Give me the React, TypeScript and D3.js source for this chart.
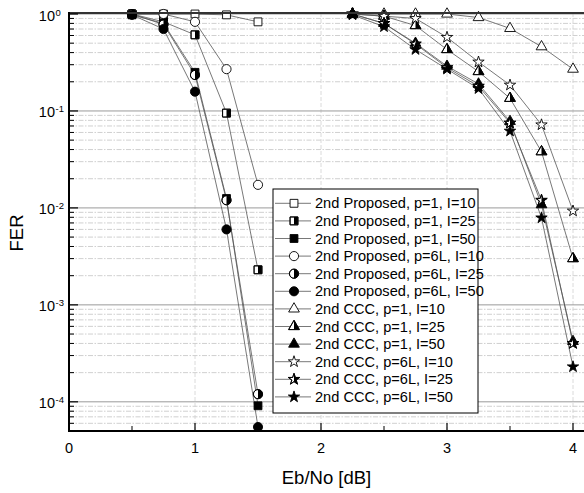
import React from 'react';
import * as d3 from 'd3';

const W = 584;
const H = 493;

// ---- data ----
const xProposed = [0.5, 0.75, 1.0, 1.25, 1.5];
const xCCC = [2.25, 2.5, 2.75, 3.0, 3.25, 3.5, 3.75, 4.0];

const propP1I10 = [1.0, 1.0, 1.0, 0.98, 0.83];
const propP1I25 = [1.0, 0.83, 0.61, 0.095, 0.0023];
const propP1I50 = [0.98, 0.8, 0.25, 0.0125, 9.1e-5];
const propP6I10 = [1.0, 1.0, 0.83, 0.27, 0.0173];
const propP6I25 = [1.0, 0.78, 0.235, 0.012, 1.2e-4];
const propP6I50 = [0.98, 0.7, 0.158, 0.006, 5.5e-5];

const cccP1I10 = [1.0, 1.0, 1.0, 1.0, 0.92, 0.71, 0.46, 0.27];
const cccP1I25 = [1.0, 0.95, 0.76, 0.43, 0.255, 0.135, 0.038, 0.003];
const cccP1I50 = [1.0, 0.8, 0.5, 0.29, 0.19, 0.078, 0.0108, 4.2e-4];
const cccP6I10 = [1.0, 0.95, 0.9, 0.575, 0.32, 0.185, 0.072, 0.0093];
const cccP6I25 = [1.0, 0.8, 0.49, 0.28, 0.18, 0.075, 0.012, 4.0e-4];
const cccP6I50 = [0.98, 0.74, 0.43, 0.27, 0.17, 0.062, 0.0079, 2.3e-4];

const xTicks = [0, 1, 2, 3, 4];
const xMinorTicks = [0.5, 1.5, 2.5, 3.5];
const yDecades = [-4, -3, -2, -1, 0];

type Shape = 'square' | 'circle' | 'triangle' | 'star';
type Fill = 'open' | 'half' | 'full';
interface Series { label: string; x: number[]; y: number[]; shape: Shape; fill: Fill; }

const series: Series[] = [
  { label: '2nd Proposed, p=1, I=10', x: xProposed, y: propP1I10, shape: 'square', fill: 'open' },
  { label: '2nd Proposed, p=1, I=25', x: xProposed, y: propP1I25, shape: 'square', fill: 'half' },
  { label: '2nd Proposed, p=1, I=50', x: xProposed, y: propP1I50, shape: 'square', fill: 'full' },
  { label: '2nd Proposed, p=6L, I=10', x: xProposed, y: propP6I10, shape: 'circle', fill: 'open' },
  { label: '2nd Proposed, p=6L, I=25', x: xProposed, y: propP6I25, shape: 'circle', fill: 'half' },
  { label: '2nd Proposed, p=6L, I=50', x: xProposed, y: propP6I50, shape: 'circle', fill: 'full' },
  { label: '2nd CCC, p=1, I=10', x: xCCC, y: cccP1I10, shape: 'triangle', fill: 'open' },
  { label: '2nd CCC, p=1, I=25', x: xCCC, y: cccP1I25, shape: 'triangle', fill: 'half' },
  { label: '2nd CCC, p=1, I=50', x: xCCC, y: cccP1I50, shape: 'triangle', fill: 'full' },
  { label: '2nd CCC, p=6L, I=10', x: xCCC, y: cccP6I10, shape: 'star', fill: 'open' },
  { label: '2nd CCC, p=6L, I=25', x: xCCC, y: cccP6I25, shape: 'star', fill: 'half' },
  { label: '2nd CCC, p=6L, I=50', x: xCCC, y: cccP6I50, shape: 'star', fill: 'full' },
];

const FONT = '"Liberation Sans", Arial, Helvetica, sans-serif';

const symbolType: Record<Shape, d3.SymbolType> = {
  square: d3.symbolSquare,
  circle: d3.symbolCircle,
  triangle: d3.symbolTriangle,
  star: d3.symbolStar,
};
const symbolSize: Record<Shape, number> = { square: 62, circle: 66, triangle: 50, star: 40 };

function Marker({ cx, cy, shape, fill }: { cx: number; cy: number; shape: Shape; fill: Fill }) {
  const d = d3.symbol().type(symbolType[shape]).size(symbolSize[shape])() as string;
  const t = `translate(${cx},${cy})`;
  return (
    <g transform={t}>
      <path d={d} fill={fill === 'full' ? '#000' : '#fff'} stroke="#000" strokeWidth={0.9} />
      {fill === 'half' && <path d={d} fill="#000" clipPath="url(#rightHalf)" />}
      {fill === 'half' && <path d={d} fill="none" stroke="#000" strokeWidth={0.9} />}
    </g>
  );
}

export default function App() {
  const x = d3.scaleLinear().domain([0, 4]).range([69, 573]);
  const y = d3.scaleLog().domain([5e-5, 1]).range([431, 14]);
  const left = x(0);
  const right = W + 4;
  const bottom = y(5e-5);
  const top = 13;

  const minorY: number[] = [];
  for (let e = -5; e <= -1; e++) {
    for (let m = 2; m <= 9; m++) {
      const v = m * Math.pow(10, e);
      if (v >= 5e-5 && v < 1) minorY.push(v);
    }
  }

  const line = d3.line<[number, number]>().x((d) => x(d[0])).y((d) => y(d[1]));

  const legX = 273, legY = 189, legW = 205, legH = 224;
  const rowY0 = 203.3, rowDy = 17.6;

  return (
    <div style={{ position: 'fixed', left: 0, top: 0 }}>
      <svg width={W} height={H} style={{ display: 'block', background: '#fff' }} fontFamily={FONT}>
        <defs>
          <clipPath id="rightHalf" clipPathUnits="objectBoundingBox">
            <rect x={0.5} y={0} width={0.5} height={1} />
          </clipPath>
        </defs>
        <rect x={0} y={0} width={W} height={H} fill="#fff" />

        {/* minor horizontal grid */}
        {minorY.map((v, i) => (
          <line key={'mg' + i} x1={left} x2={right} y1={y(v)} y2={y(v)} stroke="#c4c4c4" strokeWidth={0.8} strokeDasharray="5,1.5,1.5,1.5" />
        ))}
        {/* vertical grid */}
        {xTicks.filter((t) => t > 0).map((t) => (
          <line key={'vg' + t} x1={x(t)} x2={x(t)} y1={top} y2={bottom} stroke="#d0d0d0" strokeWidth={0.8} strokeDasharray="4,2" />
        ))}
        {/* major horizontal grid */}
        {yDecades.map((e) => (
          <line key={'Mg' + e} x1={left} x2={right} y1={y(Math.pow(10, e))} y2={y(Math.pow(10, e))} stroke="#9a9a9a" strokeWidth={1} />
        ))}

        {/* series lines */}
        {series.map((s, i) => (
          <path key={'l' + i} d={line(s.x.map((xv, j) => [xv, s.y[j]] as [number, number])) as string} fill="none" stroke="#555" strokeWidth={0.8} />
        ))}
        {/* markers */}
        {series.map((s, i) => (
          <g key={'m' + i}>
            {s.x.map((xv, j) => (
              <Marker key={j} cx={x(xv)} cy={y(s.y[j])} shape={s.shape} fill={s.fill} />
            ))}
          </g>
        ))}

        {/* frame */}
        <line x1={left} x2={right} y1={top} y2={top} stroke="#333" strokeWidth={2} />
        <line x1={left} x2={left} y1={top - 1} y2={bottom + 1} stroke="#000" strokeWidth={2} />
        <line x1={left - 1} x2={right} y1={bottom} y2={bottom} stroke="#000" strokeWidth={2} />

        {/* y ticks */}
        {yDecades.map((e) => (
          <line key={'yt' + e} x1={left} x2={left + 9} y1={y(Math.pow(10, e))} y2={y(Math.pow(10, e))} stroke="#000" strokeWidth={1.2} />
        ))}
        {minorY.map((v, i) => (
          <line key={'ymt' + i} x1={left} x2={left + 5} y1={y(v)} y2={y(v)} stroke="#000" strokeWidth={1} />
        ))}
        {/* x ticks */}
        {xTicks.map((t) => (
          <line key={'xt' + t} x1={x(t)} x2={x(t)} y1={bottom} y2={bottom - 8} stroke="#000" strokeWidth={1.2} />
        ))}
        {xMinorTicks.map((t) => (
          <line key={'xmt' + t} x1={x(t)} x2={x(t)} y1={bottom} y2={bottom - 5} stroke="#000" strokeWidth={1} />
        ))}

        {/* tick labels */}
        {xTicks.map((t) => (
          <text key={'xl' + t} x={x(t)} y={453} fontSize={14.5} textAnchor="middle" fill="#000">{t}</text>
        ))}
        {yDecades.map((e) => (
          <g key={'yl' + e}>
            <text x={55} y={y(Math.pow(10, e)) + 6.5} fontSize={14.5} textAnchor="end" fill="#000">10</text>
            <text x={55.5} y={y(Math.pow(10, e)) + 1.5} fontSize={9.5} textAnchor="start" fill="#000">{e === 0 ? '0' : '-' + Math.abs(e)}</text>
          </g>
        ))}

        {/* axis titles */}
        <text x={326.5} y={484} fontSize={18.5} textAnchor="middle" fill="#000">Eb/No [dB]</text>
        <text transform={`translate(23,233) rotate(-90)`} fontSize={18.5} textAnchor="middle" fill="#000">FER</text>

        {/* legend */}
        <rect x={legX} y={legY} width={legW} height={legH} fill="#fff" stroke="#000" strokeWidth={1} />
        {series.map((s, i) => {
          const ry = rowY0 + i * rowDy;
          return (
            <g key={'lg' + i}>
              <line x1={275} x2={311} y1={ry} y2={ry} stroke="#555" strokeWidth={0.8} />
              <Marker cx={294} cy={ry} shape={s.shape} fill={s.fill} />
              <text x={315} y={ry + 5} fontSize={14.6} fill="#000">{s.label}</text>
            </g>
          );
        })}
      </svg>
    </div>
  );
}
